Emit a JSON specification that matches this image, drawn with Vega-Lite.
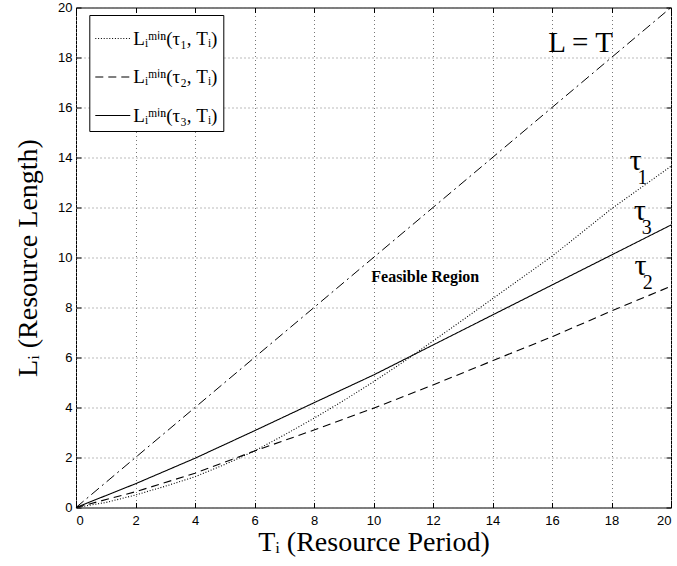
{
  "$schema": "https://vega.github.io/schema/vega-lite/v6.json",
  "width": 595,
  "height": 500,
  "autosize": {"type": "none"},
  "padding": {"left": 76, "top": 7.5, "right": 6, "bottom": 58.5},
  "background": "white",
  "config": {
    "view": {"stroke": "black", "strokeWidth": 1},
    "axis": {
      "domain": false,
      "tickColor": "black",
      "tickSize": -5,
      "labelFont": "Liberation Sans",
      "labelFontSize": 13,
      "labelColor": "black",
      "gridColor": "#777",
      "gridDash": [1, 3],
      "gridWidth": 1,
      "titleFont": "Liberation Serif",
      "titleFontSize": 28,
      "titleFontWeight": "normal",
      "titleColor": "black"
    },
    "legend": {
      "orient": "none",
      "legendX": 13.3,
      "legendY": 7.5,
      "strokeColor": "black",
      "fillColor": "white",
      "padding": 5,
      "symbolType": "stroke",
      "symbolSize": 1225,
      "symbolStrokeColor": "black",
      "symbolStrokeWidth": 1.1,
      "labelFont": "Liberation Serif",
      "labelFontSize": 19,
      "labelColor": "black",
      "labelLimit": 300,
      "labelOffset": 2,
      "rowPadding": 9.5
    }
  },
  "datasets": {
    "curves": [
      {"series": "Lᵢᵐⁱⁿ(τ₁, Tᵢ)", "T": 0, "L": 0},
      {"series": "Lᵢᵐⁱⁿ(τ₁, Tᵢ)", "T": 1, "L": 0.2},
      {"series": "Lᵢᵐⁱⁿ(τ₁, Tᵢ)", "T": 2, "L": 0.5},
      {"series": "Lᵢᵐⁱⁿ(τ₁, Tᵢ)", "T": 3, "L": 0.85},
      {"series": "Lᵢᵐⁱⁿ(τ₁, Tᵢ)", "T": 4, "L": 1.23},
      {"series": "Lᵢᵐⁱⁿ(τ₁, Tᵢ)", "T": 5, "L": 1.72},
      {"series": "Lᵢᵐⁱⁿ(τ₁, Tᵢ)", "T": 6, "L": 2.26},
      {"series": "Lᵢᵐⁱⁿ(τ₁, Tᵢ)", "T": 7, "L": 2.9},
      {"series": "Lᵢᵐⁱⁿ(τ₁, Tᵢ)", "T": 8, "L": 3.57},
      {"series": "Lᵢᵐⁱⁿ(τ₁, Tᵢ)", "T": 9, "L": 4.28},
      {"series": "Lᵢᵐⁱⁿ(τ₁, Tᵢ)", "T": 10, "L": 5.03},
      {"series": "Lᵢᵐⁱⁿ(τ₁, Tᵢ)", "T": 11, "L": 5.82},
      {"series": "Lᵢᵐⁱⁿ(τ₁, Tᵢ)", "T": 12, "L": 6.66},
      {"series": "Lᵢᵐⁱⁿ(τ₁, Tᵢ)", "T": 13, "L": 7.5},
      {"series": "Lᵢᵐⁱⁿ(τ₁, Tᵢ)", "T": 14, "L": 8.35},
      {"series": "Lᵢᵐⁱⁿ(τ₁, Tᵢ)", "T": 15, "L": 9.2},
      {"series": "Lᵢᵐⁱⁿ(τ₁, Tᵢ)", "T": 16, "L": 10.05},
      {"series": "Lᵢᵐⁱⁿ(τ₁, Tᵢ)", "T": 17, "L": 11.0},
      {"series": "Lᵢᵐⁱⁿ(τ₁, Tᵢ)", "T": 18, "L": 11.95},
      {"series": "Lᵢᵐⁱⁿ(τ₁, Tᵢ)", "T": 19, "L": 12.8},
      {"series": "Lᵢᵐⁱⁿ(τ₁, Tᵢ)", "T": 20, "L": 13.65},
      {"series": "Lᵢᵐⁱⁿ(τ₂, Tᵢ)", "T": 0, "L": 0},
      {"series": "Lᵢᵐⁱⁿ(τ₂, Tᵢ)", "T": 2, "L": 0.63},
      {"series": "Lᵢᵐⁱⁿ(τ₂, Tᵢ)", "T": 4, "L": 1.37},
      {"series": "Lᵢᵐⁱⁿ(τ₂, Tᵢ)", "T": 6, "L": 2.26},
      {"series": "Lᵢᵐⁱⁿ(τ₂, Tᵢ)", "T": 8, "L": 3.1},
      {"series": "Lᵢᵐⁱⁿ(τ₂, Tᵢ)", "T": 10, "L": 3.97},
      {"series": "Lᵢᵐⁱⁿ(τ₂, Tᵢ)", "T": 12, "L": 4.9},
      {"series": "Lᵢᵐⁱⁿ(τ₂, Tᵢ)", "T": 14, "L": 5.87},
      {"series": "Lᵢᵐⁱⁿ(τ₂, Tᵢ)", "T": 16, "L": 6.83},
      {"series": "Lᵢᵐⁱⁿ(τ₂, Tᵢ)", "T": 18, "L": 7.86},
      {"series": "Lᵢᵐⁱⁿ(τ₂, Tᵢ)", "T": 20, "L": 8.85},
      {"series": "Lᵢᵐⁱⁿ(τ₃, Tᵢ)", "T": 0, "L": 0},
      {"series": "Lᵢᵐⁱⁿ(τ₃, Tᵢ)", "T": 2, "L": 0.95},
      {"series": "Lᵢᵐⁱⁿ(τ₃, Tᵢ)", "T": 4, "L": 1.97},
      {"series": "Lᵢᵐⁱⁿ(τ₃, Tᵢ)", "T": 6, "L": 3.07},
      {"series": "Lᵢᵐⁱⁿ(τ₃, Tᵢ)", "T": 8, "L": 4.19},
      {"series": "Lᵢᵐⁱⁿ(τ₃, Tᵢ)", "T": 10, "L": 5.3},
      {"series": "Lᵢᵐⁱⁿ(τ₃, Tᵢ)", "T": 12, "L": 6.5},
      {"series": "Lᵢᵐⁱⁿ(τ₃, Tᵢ)", "T": 14, "L": 7.7},
      {"series": "Lᵢᵐⁱⁿ(τ₃, Tᵢ)", "T": 16, "L": 8.9},
      {"series": "Lᵢᵐⁱⁿ(τ₃, Tᵢ)", "T": 18, "L": 10.1},
      {"series": "Lᵢᵐⁱⁿ(τ₃, Tᵢ)", "T": 20, "L": 11.3}
    ],
    "identity": [
      {"T": 0, "L": 0},
      {"T": 20, "L": 20}
    ],
    "taus": [
      {"text": "τ", "sub": "1", "T": 18.81, "L": 13.5},
      {"text": "τ", "sub": "3", "T": 18.95, "L": 11.5},
      {"text": "τ", "sub": "2", "T": 18.98, "L": 9.3}
    ],
    "eq": [
      {"text": "L = T", "T": 16.96, "L": 18.23}
    ],
    "region": [
      {"text": "Feasible Region", "T": 11.74, "L": 9.02}
    ]
  },
  "resolve": {"axis": {"x": "independent", "y": "independent"}},
  "layer": [
    {
      "data": {"name": "curves"},
      "mark": {"type": "line", "color": "black", "strokeWidth": 1.1},
      "encoding": {
        "x": {
          "field": "T", "type": "quantitative",
          "scale": {"domain": [0, 20], "nice": false, "zero": false},
          "axis": {
            "orient": "bottom",
            "values": [0, 2, 4, 6, 8, 10, 12, 14, 16, 18, 20],
            "grid": true,
            "labelPadding": 12,
            "title": "Tᵢ (Resource Period)",
            "titlePadding": 1
          }
        },
        "y": {
          "field": "L", "type": "quantitative",
          "scale": {"domain": [0, 20], "nice": false, "zero": false},
          "axis": {
            "orient": "left",
            "values": [0, 2, 4, 6, 8, 10, 12, 14, 16, 18, 20],
            "grid": true,
            "labelPadding": 9,
            "title": "Lᵢ (Resource Length)",
            "titlePadding": 15
          }
        },
        "strokeDash": {
          "field": "series", "type": "nominal",
          "scale": {
            "domain": ["Lᵢᵐⁱⁿ(τ₁, Tᵢ)", "Lᵢᵐⁱⁿ(τ₂, Tᵢ)", "Lᵢᵐⁱⁿ(τ₃, Tᵢ)"],
            "range": [[1, 1.8], [8, 5], [1, 0]]
          },
          "legend": {"title": null}
        }
      }
    },
    {
      "data": {"name": "identity"},
      "mark": {"type": "line", "color": "black", "strokeWidth": 1, "strokeDash": [10, 4, 2, 4]},
      "encoding": {
        "x": {
          "field": "T", "type": "quantitative",
          "axis": {
            "orient": "top",
            "values": [0, 2, 4, 6, 8, 10, 12, 14, 16, 18, 20],
            "labels": false, "grid": false, "title": null
          }
        },
        "y": {
          "field": "L", "type": "quantitative",
          "axis": {
            "orient": "right",
            "values": [0, 2, 4, 6, 8, 10, 12, 14, 16, 18, 20],
            "labels": false, "grid": false, "title": null
          }
        }
      }
    },
    {
      "data": {"name": "taus"},
      "mark": {"type": "text", "font": "Liberation Serif", "fontSize": 30, "color": "black", "align": "center", "baseline": "alphabetic"},
      "encoding": {
        "x": {"field": "T", "type": "quantitative", "axis": null},
        "y": {"field": "L", "type": "quantitative", "axis": null},
        "text": {"field": "text"}
      }
    },
    {
      "data": {"name": "taus"},
      "mark": {"type": "text", "font": "Liberation Serif", "fontSize": 20, "color": "black", "align": "center", "baseline": "alphabetic", "dx": 7, "dy": 14},
      "encoding": {
        "x": {"field": "T", "type": "quantitative", "axis": null},
        "y": {"field": "L", "type": "quantitative", "axis": null},
        "text": {"field": "sub"}
      }
    },
    {
      "data": {"name": "eq"},
      "mark": {"type": "text", "font": "Liberation Serif", "fontSize": 29, "color": "black", "align": "center", "baseline": "alphabetic"},
      "encoding": {
        "x": {"field": "T", "type": "quantitative", "axis": null},
        "y": {"field": "L", "type": "quantitative", "axis": null},
        "text": {"field": "text"}
      }
    },
    {
      "data": {"name": "region"},
      "mark": {"type": "text", "font": "Liberation Serif", "fontSize": 16, "fontWeight": "bold", "color": "black", "align": "center", "baseline": "alphabetic"},
      "encoding": {
        "x": {"field": "T", "type": "quantitative", "axis": null},
        "y": {"field": "L", "type": "quantitative", "axis": null},
        "text": {"field": "text"}
      }
    }
  ]
}
